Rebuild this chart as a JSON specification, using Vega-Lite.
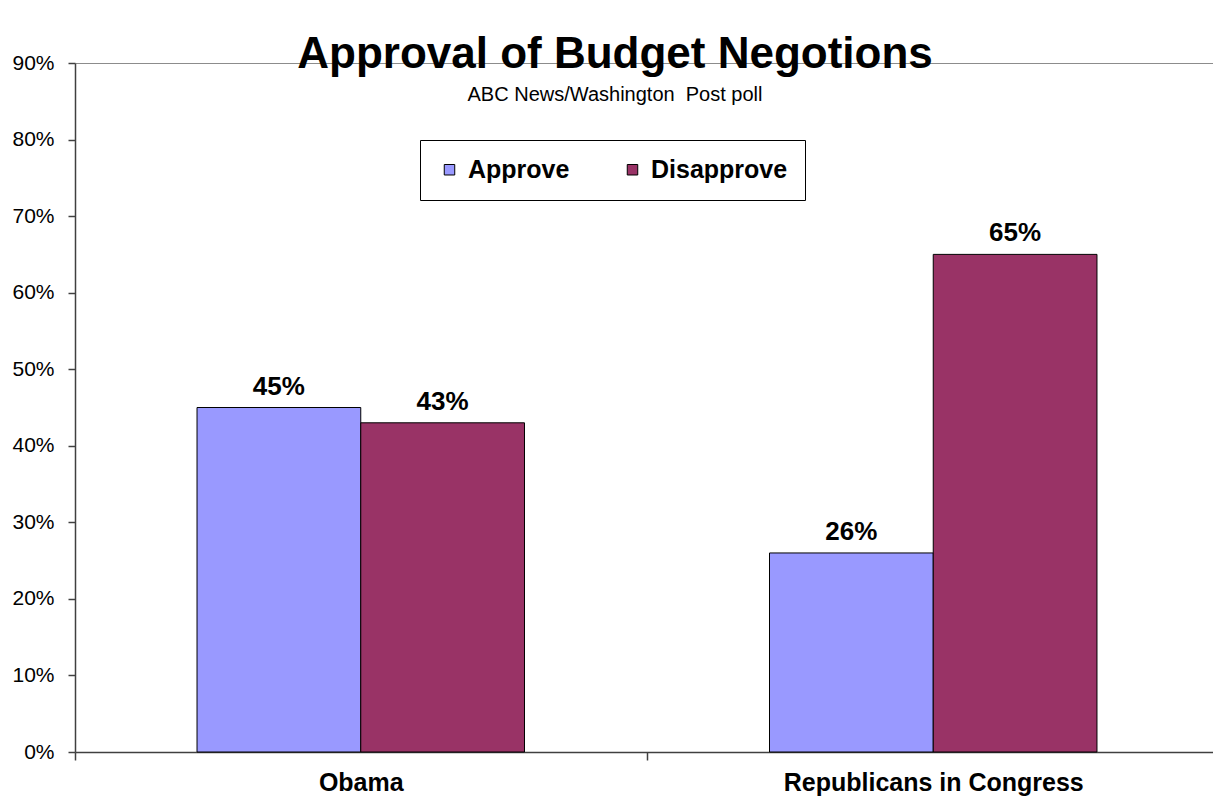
{
  "$schema": "https://vega.github.io/schema/vega-lite/v6.json",
  "width": 1138,
  "height": 689,
  "autosize": {"type": "none"},
  "padding": {"left": 75, "top": 63, "right": 0, "bottom": 46},
  "background": "white",
  "config": {"view": {"stroke": null}, "font": "Liberation Sans"},
  "title": {
    "text": "Approval of Budget Negotions",
    "subtitle": "ABC News/Washington\u00a0 Post poll",
    "font": "Liberation Sans",
    "subtitleFont": "Liberation Sans",
    "fontSize": 44,
    "fontWeight": "bold",
    "subtitleFontSize": 20,
    "color": "black",
    "subtitleColor": "black",
    "anchor": "middle",
    "frame": "group",
    "offset": -53,
    "dx": -29,
    "subtitlePadding": 8
  },
  "data": {
    "values": [
      {"group": "Obama", "response": "Approve", "value": 0.45},
      {"group": "Obama", "response": "Disapprove", "value": 0.43},
      {"group": "Republicans in Congress", "response": "Approve", "value": 0.26},
      {"group": "Republicans in Congress", "response": "Disapprove", "value": 0.65}
    ]
  },
  "encoding": {
    "x": {
      "field": "group",
      "type": "nominal",
      "sort": null,
      "scale": {"paddingInner": 0.428, "paddingOuter": 0.2079, "align": 0.5126},
      "axis": {
        "title": null,
        "labelAngle": 0,
        "labelFontSize": 25,
        "labelFontWeight": "bold",
        "labelColor": "black",
        "labelPadding": 10,
        "labelLimit": 0,
        "tickOffset": -286.25,
        "labelOffset": 286.25,
        "tickSize": 8,
        "tickColor": "#404040",
        "tickWidth": 1.5,
        "domainColor": "#404040",
        "domainWidth": 1.5,
        "grid": false
      }
    },
    "xOffset": {"field": "response", "type": "nominal", "sort": ["Approve", "Disapprove"], "scale": {"paddingInner": 0, "paddingOuter": 0}},
    "y": {
      "field": "value",
      "type": "quantitative",
      "scale": {"domain": [0, 0.9], "nice": false},
      "axis": {
        "title": null,
        "format": ".0%",
        "values": [0, 0.1, 0.2, 0.3, 0.4, 0.5, 0.6, 0.7, 0.8, 0.9],
        "labelFontSize": 21,
        "labelColor": "black",
        "labelPadding": 14,
        "tickSize": 7,
        "tickColor": "#404040",
        "tickWidth": 1.5,
        "domainColor": "#404040",
        "domainWidth": 1.5,
        "grid": true,
        "gridColor": "#8c8c8c",
        "gridWidth": 1,
        "gridOpacity": {"condition": {"test": "datum.value > 0.89", "value": 1}, "value": 0}
      }
    }
  },
  "layer": [
    {
      "mark": {"type": "bar", "stroke": "black", "strokeWidth": 1},
      "encoding": {
        "color": {
          "field": "response",
          "type": "nominal",
          "sort": ["Approve", "Disapprove"],
          "scale": {"domain": ["Approve", "Disapprove"], "range": ["#9999FF", "#993366"]},
          "legend": {
            "title": null,
            "orient": "none",
            "legendX": 345,
            "legendY": 77,
            "direction": "horizontal",
            "symbolType": "square",
            "symbolSize": 110,
            "symbolStrokeColor": "black",
            "symbolStrokeWidth": 1,
            "labelFontSize": 25,
            "labelFontWeight": "bold",
            "labelColor": "black",
            "labelOffset": 6,
            "columnPadding": 50,
            "padding": 17,
            "strokeColor": "black",
            "fillColor": "white"
          }
        }
      }
    },
    {
      "mark": {"type": "text", "baseline": "alphabetic", "dy": -13, "fontSize": 26, "fontWeight": "bold", "color": "black"},
      "encoding": {
        "text": {"field": "value", "type": "quantitative", "format": ".0%"}
      }
    }
  ]
}
